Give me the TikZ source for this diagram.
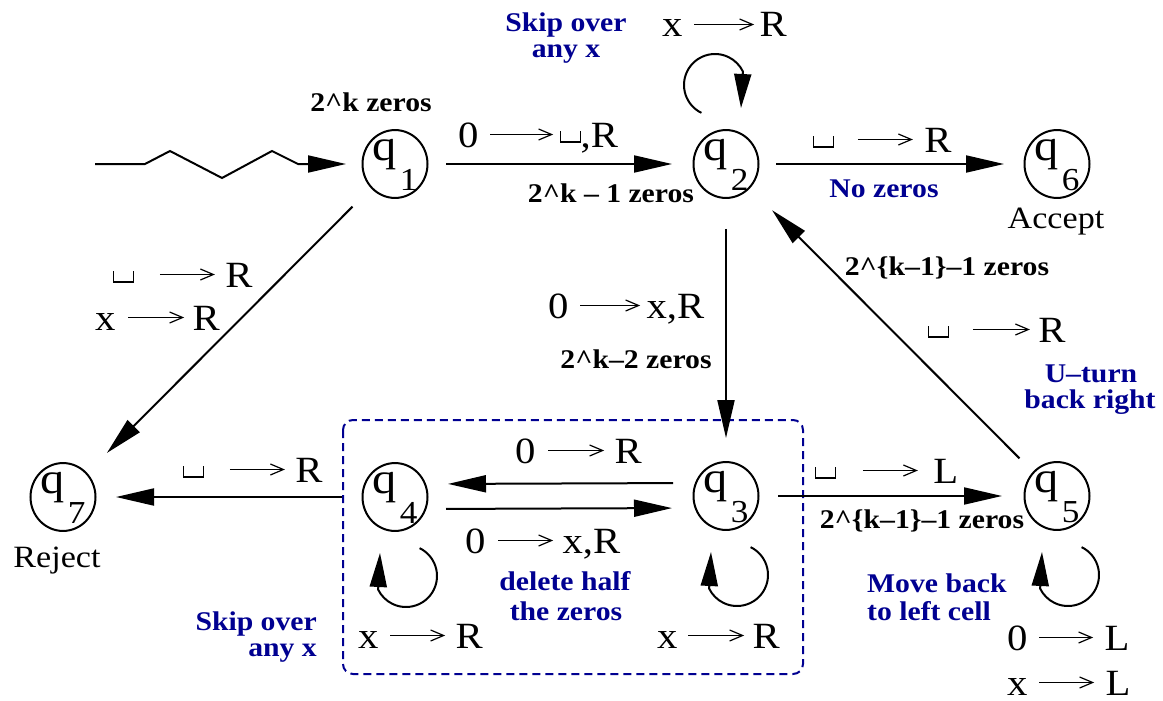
\documentclass[tikz,border=0pt]{standalone}
\usepackage{fontspec}
\setmainfont[FakeStretch=1.1]{Liberation Serif}
\usetikzlibrary{arrows.meta,shapes.geometric,calc}
\definecolor{navyb}{RGB}{0,0,145}
\newcommand\tmarr[1][57]{\tikz[baseline={(0pt,-12.5pt)}]\draw[line width=1.2pt,black,-{Straight Barb[length=13pt,width=11pt]}] (0pt,0pt) -- (#1pt,0pt);}
\newcommand\tmblank{\tikz[baseline={(0pt,-5pt)}]\draw[line width=1.1pt,black] (0pt,11pt) -- (0pt,0pt) -- (20pt,0pt) -- (20pt,11pt);}
\newcommand\qs[1]{q\kern3pt\raisebox{-30pt}{\fontsize{32}{32}\selectfont #1}}
\tikzset{
 st/.style={ellipse, draw, line width=2pt, minimum width=65pt, minimum height=58pt, inner sep=0pt, text height=20pt, text depth=28pt, font=\fontsize{44}{44}\selectfont},
 edge/.style={line width=2pt, -{Triangle[length=38pt,width=17pt]}},
 loopst/.style={line width=2pt, -{Triangle[length=34pt,width=17pt]}},
 lab/.style={inner sep=0pt, anchor=base west, font=\fontsize{37}{37}\selectfont},
 note/.style={inner sep=0pt, anchor=base, font=\fontsize{27}{27}\selectfont\bfseries},
 bnote/.style={note, text=navyb},
 capt/.style={inner sep=0pt, anchor=base, font=\fontsize{31}{31}\selectfont},
}
\begin{document}
\begin{tikzpicture}[x=1pt,y=-1pt]
\useasboundingbox (0,0) rectangle (1163,701);
% dashed group box
\draw[navyb, line width=2pt, dash pattern=on 8pt off 5pt, rounded corners=10pt] (343,420) rectangle (803,674);
% states
\node[st] (q1) at (395,164) {\qs1};
\node[st] (q2) at (726,164) {\qs2};
\node[st] (q6) at (1057,164) {\qs6};
\node[st] (q7) at (63,497) {\qs7};
\node[st] (q4) at (395,497) {\qs4};
\node[st] (q3) at (726,496) {\qs3};
\node[st] (q5) at (1057,496) {\qs5};
% start
\coordinate (s) at (95,164);
\draw[edge, shorten >=15.5pt] (s) -- (145,164) -- (170,151) -- (222,178) -- (272,151) -- (298,164) -- (q1);
% edges
\draw[edge, shorten <=17.5pt, shorten >=20.5pt] (q1) -- (q2);
\draw[edge, shorten <=16.5pt, shorten >=19.5pt] (q2) -- (q6);
\draw[edge, shorten <=30pt, shorten >=23pt] (q2) -- (q3);
\draw[edge, shorten <=26pt, shorten >=28pt] (q1) -- (q7);
\draw[edge, shorten <=19pt, shorten >=31pt] (q5) -- (q2);
\draw[edge, shorten <=19.5pt, shorten >=19.5pt] ([yshift=13pt]q3.west) -- ([yshift=13pt]q4.east);
\draw[edge, shorten <=17.5pt, shorten >=20.5pt] ([yshift=-12pt]q4.east) -- ([yshift=-12pt]q3.west);
\draw[edge, shorten <=19.5pt, shorten >=19.5pt] (q4) -- (q7);
\draw[edge, shorten <=18.5pt, shorten >=21.5pt] (q3) -- (q5);
% loops
\foreach \n in {q4,q3,q5}
  \draw[loopst] ([shift={(11,79)}]\n.center) ++(-64:31) arc[start angle=-64, end angle=154, radius=31] -- ([shift={(-15,56)}]\n.center);
\draw[loopst] ([shift={(-11,-79)}]q2.center) ++(116:31) arc[start angle=116, end angle=334, radius=31] -- ([shift={(15,-56)}]q2.center);
% labels
\node[note] (tA) at (371,111) {2\textasciicircum k zeros};
\node[lab] (tB) at (458,147) {0\hspace{11pt}\tmarr[63]\hspace{5pt}\tmblank,R};
\node[note] (tC) at (611,202) {2\textasciicircum k – 1 zeros};
\node[bnote] (tD1) at (566,32) {Skip over};
\node[bnote] (tD2) at (566,58) {any x};
\node[lab] (tE) at (662,37) {x\hspace{11pt}\tmarr[60]\hspace{4pt}R};
\node[lab] (tF) at (813,152) {\tmblank\hspace{23pt}\tmarr[55]\hspace{10pt}R};
\node[bnote] (tG) at (884,197) {No zeros};
\node[capt] (tH) at (1056,228) {Accept};
\node[note] (tI) at (947,275) {2\textasciicircum\{k–1\}–1 zeros};
\node[lab] (tJ) at (928,342) {\tmblank\hspace{23pt}\tmarr[57]\hspace{7pt}R};
\node[bnote] (tK1) at (1091,382) {U–turn};
\node[bnote] (tK2) at (1090,408) {back right};
\node[lab] (tL) at (113,287) {\tmblank\hspace{25pt}\tmarr[55]\hspace{9pt}R};
\node[lab] (tM) at (95,330) {x\hspace{12pt}\tmarr[56]\hspace{7pt}R};
\node[lab] (tN) at (183,482) {\tmblank\hspace{25pt}\tmarr[55]\hspace{9pt}R};
\node[capt] (tO) at (57,567) {Reject};
\node[lab] (tP) at (548,318) {0\hspace{11pt}\tmarr[60]\hspace{5pt}x,R};
\node[note] (tQ) at (636,368) {2\textasciicircum k–2 zeros};
\node[lab] (tR) at (515,463) {0\hspace{12pt}\tmarr[56]\hspace{9pt}R};
\node[lab] (tS) at (465,553) {0\hspace{12pt}\tmarr[55]\hspace{8pt}x,R};
\node[bnote] (tT1) at (565,590) {delete half};
\node[bnote] (tT2) at (566,620) {the zeros};
\node[lab] (tU) at (358,648) {x\hspace{11pt}\tmarr[55]\hspace{9pt}R};
\node[lab] (tV) at (657,648) {x\hspace{10pt}\tmarr[56]\hspace{7pt}R};
\node[bnote, anchor=base east] (tW1) at (317,630) {Skip over};
\node[bnote, anchor=base east] (tW2) at (317,656) {any x};
\node[note] (tX) at (922,528) {2\textasciicircum\{k–1\}–1 zeros};
\node[lab] (tY) at (815,483) {\tmblank\hspace{26pt}\tmarr[55]\hspace{14pt}L};
\node[bnote, anchor=base west] (tZ1) at (867,592) {Move back};
\node[bnote, anchor=base west] (tZ2) at (867,620) {to left cell};
\node[lab] (ta) at (1007,650) {0\hspace{11pt}\tmarr[54]\hspace{10pt}L};
\node[lab] (tb) at (1007,695) {x\hspace{11pt}\tmarr[55]\hspace{10pt}L};
\end{tikzpicture}
\end{document}
